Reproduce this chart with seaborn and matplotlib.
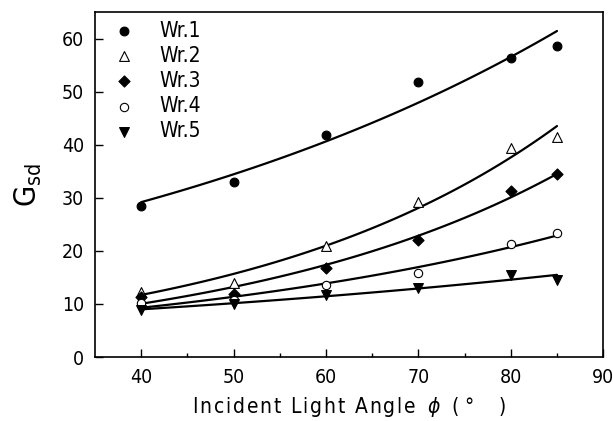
import numpy as np
import pandas as pd
import matplotlib
matplotlib.use("Agg")
import matplotlib.pyplot as plt
import seaborn as sns

angles = [40, 50, 60, 70, 80, 85]
series_names = ["Wr.1", "Wr.2", "Wr.3", "Wr.4", "Wr.5"]
wr1 = [28.4, 32.9, 41.8, 51.8, 56.4, 58.7]
wr2 = [12.3, 14.0, 21.0, 29.3, 39.4, 41.4]
wr3 = [11.4, 11.9, 16.7, 22.1, 31.3, 34.5]
wr4 = [10.1, 10.8, 13.6, 15.9, 21.3, 23.3]
wr5 = [8.9, 9.9, 11.7, 13.0, 15.5, 14.5]
x_ticks = [40, 50, 60, 70, 80, 90]
y_ticks = [0, 10, 20, 30, 40, 50, 60]

values = [wr1, wr2, wr3, wr4, wr5]

sns.set_theme(style="ticks")
plt.rcParams['font.family'] = ['DejaVu Sans']
plt.rcParams['font.stretch'] = 'condensed'
plt.rcParams['font.weight'] = 'medium'
plt.rcParams['text.color'] = 'black'
plt.rcParams['axes.labelcolor'] = 'black'
plt.rcParams['xtick.color'] = 'black'
plt.rcParams['ytick.color'] = 'black'
plt.rcParams['mathtext.fontset'] = 'dejavusans'

rows = []
for name, vals in zip(series_names, values):
    for a, v in zip(angles, vals):
        rows.append({"angle": a, "G": v, "series": name})
df = pd.DataFrame(rows)

# exponential fits computed from the data
fit_rows = []
xs = np.linspace(40, 85, 100)
for name, vals in zip(series_names, values):
    b, ln_a = np.polyfit(angles, np.log(vals), 1, w=np.sqrt(vals))
    for xv in xs:
        fit_rows.append({"angle": xv, "G": np.exp(ln_a + b * xv), "series": name})
fit_df = pd.DataFrame(fit_rows)

fig = plt.figure(figsize=(6.13, 4.21), dpi=100)
ax = fig.add_axes([0.155, 0.152, 0.829, 0.819])

sns.lineplot(data=fit_df, x="angle", y="G", units="series", estimator=None,
             color="black", lw=1.6, ax=ax, legend=False)

styles = {
    "Wr.1": dict(marker="o", facecolor="black", s=40),
    "Wr.2": dict(marker="^", facecolor="white", s=50),
    "Wr.3": dict(marker="D", facecolor="black", s=32),
    "Wr.4": dict(marker="o", facecolor="white", s=36),
    "Wr.5": dict(marker="v", facecolor="black", s=50),
}
for name in series_names:
    st = styles[name]
    sns.scatterplot(data=df[df.series == name], x="angle", y="G", marker=st["marker"],
                    color=st["facecolor"], edgecolor="black", linewidth=0.8,
                    s=st["s"], ax=ax, label=name, zorder=3)

ax.set_xlim(35, 90)
ax.set_ylim(0, 65)
ax.set_xticks(x_ticks)
ax.set_xticks([45, 55, 65, 75, 85], minor=True)
ax.set_yticks(y_ticks)
ax.tick_params(axis='both', which='both', direction='in', labelsize=14, pad=8)
ax.tick_params(axis='both', which='major', length=6, width=1)
ax.tick_params(axis='x', which='minor', length=3, width=1)
for sp in ax.spines.values():
    sp.set_color('black')
    sp.set_linewidth(1.2)

hs = "\u200a"
xl = hs.join("Incident Light Angle") + "  $\\phi$  ( °    )"
ax.set_xlabel(xl, fontsize=15, labelpad=6)
ax.set_ylabel("G$_{\\mathrm{sd}}$", fontsize=22, labelpad=13)

leg = ax.legend(loc="upper left", frameon=False, handletextpad=0.7,
                labelspacing=0.25, borderaxespad=0.0, markerscale=1.0,
                prop={'size': 15, 'weight': 'medium', 'stretch': 'condensed'})

fig.savefig("out.png", dpi=100)
